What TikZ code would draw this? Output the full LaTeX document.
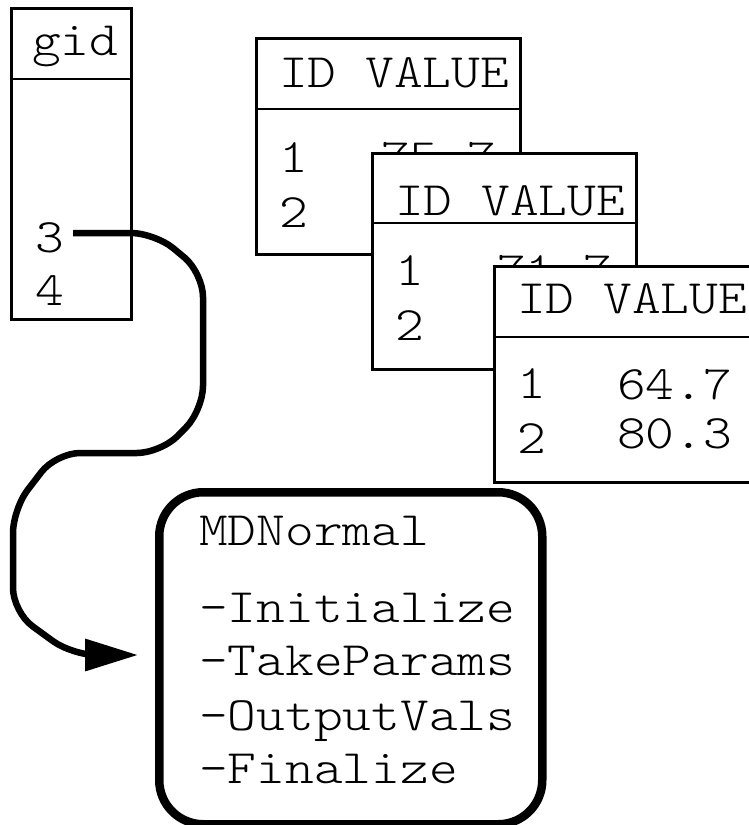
\documentclass[tikz,border=0pt]{standalone}
\usepackage{fontspec}
\setmainfont{lmmonolt10-regular.otf}[FakeStretch=1.14]
\usetikzlibrary{arrows.meta}
\begin{document}
\begin{tikzpicture}[x=1pt,y=-1pt,
  txt/.style={anchor=base west,inner sep=0pt,font=\fontsize{48}{55}\selectfont},
  tbl/.style={draw,fill=white,line width=2.6pt,anchor=north west,inner sep=0pt,minimum width=264pt,minimum height=216pt},
  gidbox/.style={draw,fill=white,line width=2.6pt,anchor=north west,inner sep=0pt,minimum width=120pt,minimum height=311pt},
  divider/.style={line width=1.7pt},
  mdbox/.style={draw,line width=8.5pt,rounded corners=44pt,anchor=north west,inner sep=0pt,minimum width=383pt,minimum height=332pt},
  flow/.style={line width=6.5pt,rounded corners=24pt,-{Triangle[length=53pt,width=31pt]}}]
\useasboundingbox (0,0) rectangle (749,825);
\clip (0,0) rectangle (749,825);

% gid box
\node[gidbox] (gid) at (10,7) {};
\draw[divider] (gid.west |- 0,79) -- (gid.east |- 0,79);
\node[txt] (gidt) at (32,55) {gid};
\node[txt] (g3) at (35,252) {3};
\node[txt] (g4) at (35,305) {4};

% table 1
\node[tbl] (t1) at (255,37) {};
\draw[divider] (t1.west |- 0,109) -- (t1.east |- 0,109);
\node[txt] (t1h) at (279,87) {ID VALUE};
\node[txt] (t1r1) at (279,172) {1};
\node[txt] (t1r2) at (279,227) {2};
\node[txt] (t1v1) at (381,172) {75.7};

% table 2
\node[tbl] (t2) at (371,152) {};
\draw[divider] (t2.west |- 0,223) -- (t2.east |- 0,223);
\node[txt] (t2h) at (395,215) {ID VALUE};
\node[txt] (t2r1) at (395,285) {1};
\node[txt] (t2r2) at (395,340) {2};
\node[txt] (t2v1) at (497,285) {71.7};

% table 3
\node[tbl] (t3) at (493,265) {};
\draw[divider] (t3.west |- 0,337) -- (t3.east |- 0,337);
\node[txt] (t3h) at (517,313) {ID VALUE};
\node[txt] (t3r1) at (517,398) {1};
\node[txt] (t3r2) at (517,453) {2};
\node[txt] (t3v1) at (617,399) {64.7};
\node[txt] (t3v2) at (617,448) {80.3};

% MDNormal box
\node[mdbox] (md) at (155,488) {};
\node[txt] (mdt) at (199,545) {MDNormal};
\node[txt] (m1) at (199,622) {-Initialize};
\node[txt] (m2) at (199,675) {-TakeParams};
\node[txt] (m3) at (199,730) {-OutputVals};
\node[txt] (m4) at (199,783) {-Finalize};

% connector
\coordinate (start) at (73,233);
\coordinate (tip) at ([xshift=-17pt]md.west |- 0,655);
\draw[flow] (start) -- (155,233) -- (203,273) -- (203,410) -- (161,453) -- (56,453) -- (13,509) -- (13,612) -- (72,655) -- (tip);
\end{tikzpicture}
\end{document}
